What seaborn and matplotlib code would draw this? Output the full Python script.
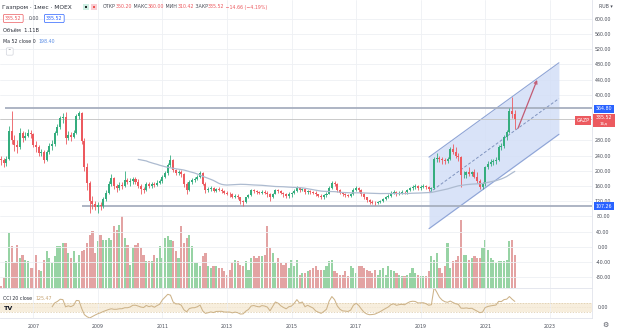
import numpy as np
import pandas as pd
import matplotlib
matplotlib.use("Agg")
import matplotlib.pyplot as plt
import seaborn as sns
from matplotlib.patches import Rectangle

# ---------------- data (monthly, Jan 2006 .. Dec 2021) ----------------
first_open = 232
closes = [
    228, 220, 232, 305, 282, 268, 262, 300, 285, 292, 300, 296,
    268, 262, 248, 250, 228, 250, 265, 270, 300, 315, 338, 342,
    286, 295, 290, 300, 345, 352, 279, 210, 168, 120, 112, 106,
    110, 108, 125, 142, 165, 181, 160, 155, 163, 160, 176, 170,
    172, 178, 170, 160, 152, 150, 165, 160, 165, 162, 168, 172,
    185, 195, 215, 228, 202, 195, 198, 192, 165, 150, 170, 176,
    178, 185, 195, 165, 150, 152, 155, 148, 152, 150, 148, 142,
    140, 138, 132, 135, 130, 120, 118, 130, 137, 150, 148, 144,
    142, 145, 143, 140, 130, 140, 150, 148, 142, 138, 135, 140,
    142, 148, 155, 150, 153, 145, 147, 145, 143, 138, 135, 132,
    136, 140, 155, 168, 165, 150, 142, 138, 137, 135, 138, 150,
    155, 150, 140, 130, 123, 118, 116, 115, 117, 120, 126, 131,
    135, 142, 145, 140, 143, 145, 144, 150, 155, 158, 160, 156,
    158, 160, 157, 152, 155, 230, 235, 232, 228, 226, 230, 258,
    250, 240, 236, 189, 190, 196, 192, 197, 185, 172, 158, 165,
    210, 218, 222, 225, 228, 262, 265, 288, 302, 358, 350.2, 335.52,
]
highs = [
    240, 234, 238, 318, 358, 295, 280, 312, 305, 302, 310, 308,
    300, 278, 268, 258, 255, 255, 272, 280, 305, 322, 345, 352,
    355, 305, 302, 308, 350, 358, 354, 285, 220, 172, 135, 120,
    118, 118, 130, 150, 172, 192, 185, 165, 170, 170, 200, 182,
    182, 185, 185, 178, 165, 158, 170, 170, 170, 170, 175, 178,
    190, 200, 220, 242, 230, 206, 202, 202, 195, 170, 175, 182,
    185, 190, 200, 198, 170, 158, 160, 158, 156, 158, 155, 150,
    148, 145, 142, 138, 138, 132, 124, 132, 140, 153, 152, 150,
    148, 150, 150, 146, 142, 142, 153, 152, 150, 145, 142, 145,
    145, 152, 160, 158, 156, 155, 150, 150, 148, 146, 140, 138,
    140, 145, 160, 172, 172, 168, 152, 145, 142, 140, 142, 156,
    160, 158, 152, 142, 132, 126, 122, 120, 120, 124, 128, 134,
    138, 146, 150, 148, 146, 150, 148, 153, 158, 162, 165, 162,
    162, 165, 164, 160, 158, 236, 247, 240, 236, 234, 236, 262,
    270, 262, 248, 240, 200, 200, 210, 200, 205, 198, 178, 170,
    212, 225, 230, 232, 236, 268, 272, 295, 308, 365, 394, 360,
]
lows = [
    215, 210, 212, 228, 270, 252, 248, 258, 275, 280, 288, 285,
    262, 250, 238, 240, 220, 225, 245, 255, 266, 295, 310, 325,
    270, 280, 278, 285, 298, 335, 270, 200, 150, 90, 100, 98,
    88, 98, 102, 120, 138, 160, 152, 145, 150, 152, 158, 165,
    160, 165, 165, 155, 140, 142, 148, 155, 156, 158, 160, 165,
    168, 180, 190, 210, 196, 188, 190, 185, 158, 140, 148, 165,
    170, 175, 182, 162, 142, 145, 148, 145, 145, 146, 142, 138,
    136, 132, 128, 128, 125, 112, 108, 116, 128, 135, 142, 140,
    138, 138, 138, 132, 120, 128, 138, 142, 138, 132, 128, 128,
    132, 138, 145, 145, 146, 140, 140, 138, 138, 134, 130, 125,
    125, 132, 138, 152, 160, 145, 138, 134, 132, 130, 132, 136,
    146, 145, 135, 126, 118, 112, 112, 111, 112, 115, 118, 124,
    128, 132, 138, 135, 136, 140, 140, 140, 146, 150, 152, 150,
    150, 154, 152, 148, 148, 152, 222, 222, 218, 218, 220, 228,
    245, 235, 225, 158, 180, 180, 186, 186, 180, 168, 152, 152,
    160, 205, 212, 215, 218, 225, 255, 260, 282, 300, 340, 310.42,
]
volumes_b = [
    0.06, 0.34, 0.90, 1.85, 1.40, 0.84, 1.46, 1.01, 1.12, 0.95, 0.90, 0.67,
    0.67, 1.12, 0.62, 0.56, 0.95, 1.23, 1.01, 0.84, 1.06, 1.40, 1.40, 1.51,
    1.51, 1.18, 1.01, 1.23, 0.84, 1.12, 1.23, 1.29, 1.51, 1.79, 1.90, 1.18,
    1.57, 1.79, 1.62, 1.62, 1.68, 1.62, 2.07, 1.96, 2.13, 2.41, 1.68, 1.46,
    0.78, 1.34, 1.46, 1.51, 1.34, 1.12, 0.90, 0.90, 0.90, 1.12, 1.01, 1.40,
    1.01, 1.68, 1.74, 1.62, 1.57, 1.23, 1.01, 2.07, 1.51, 1.68, 1.79, 1.40,
    0.84, 0.84, 0.73, 1.06, 1.18, 0.73, 0.67, 0.73, 0.73, 0.67, 0.67, 0.56,
    0.45, 0.62, 0.84, 0.95, 0.90, 0.78, 0.73, 0.90, 0.62, 1.01, 1.06, 1.01,
    1.06, 1.06, 1.12, 2.07, 1.34, 1.18, 0.84, 1.01, 0.84, 0.78, 0.84, 0.67,
    0.95, 0.73, 0.95, 0.45, 0.50, 0.50, 0.56, 0.62, 0.67, 0.73, 0.62, 0.62,
    0.62, 0.73, 0.90, 0.95, 0.56, 0.50, 0.45, 0.45, 0.56, 0.39, 0.73, 0.67,
    0.50, 0.73, 0.73, 0.67, 0.62, 0.56, 0.50, 0.62, 0.45, 0.62, 0.67, 0.45,
    0.73, 0.62, 0.56, 0.50, 0.45, 0.39, 0.39, 0.45, 0.50, 0.67, 0.50, 0.45,
    0.39, 0.39, 0.39, 0.56, 1.06, 0.95, 1.18, 0.67, 0.50, 0.73, 1.51, 0.67,
    0.90, 0.95, 1.06, 2.30, 1.12, 1.12, 0.95, 1.01, 1.06, 1.01, 1.01, 1.34,
    1.62, 1.29, 1.01, 0.95, 0.84, 0.90, 0.90, 0.90, 0.95, 1.57, 1.62, 1.11,
]
year_labels = ["2007", "2009", "2011", "2013", "2015", "2017", "2019", "2021", "2023"]
price_ticks = [600, 560, 520, 480, 440, 400, 280, 240, 200, 160, 120, 80, 40, 0, -40, -80]
level_top = 364.80
level_bottom = 107.26
last_price = 335.52
# drawn channel (month index, price) and arrow
channel_m = [159.1, 207.4]
channel_upper = [236, 484]
channel_lower = [48, 296]
arrow_from = (192.2, 312)
arrow_to = (199.3, 439)

# ---------------- styling ----------------
UP, DOWN = "#35ad7e", "#ec5a5f"
VUP, VDOWN = "#97d3a4", "#e3a3a3"
GRID = "#eef0f4"
TXT = "#4a4e59"
FS = 3.4

sns.set_theme(style="white")
plt.rcParams["font.family"] = ["DejaVu Sans"]

W, H = 620, 332
fig = plt.figure(figsize=(W / 100, H / 100), dpi=100)
fig.patch.set_facecolor("white")

ax = fig.add_axes([0, 1 - 288 / H, 592 / W, 288 / H])
axv = ax.twinx()
axc = fig.add_axes([0, 1 - 318 / H, 592 / W, 29 / H])

n = len(closes)
months = np.arange(n)
opens = [first_open] + closes[:-1]
df = pd.DataFrame({"m": months, "open": opens, "close": closes,
                   "high": highs, "low": lows, "vol": volumes_b})
up = df["close"] >= df["open"]
ccol = np.where(up, UP, DOWN)
vcol = np.where(up, VUP, VDOWN)

xmin, xmax = -0.37, 219.7

# volume (behind)
axv.bar(df["m"], df["vol"], width=0.8, color=vcol, linewidth=0)
axv.set_ylim(0, 9.68)
axv.set_xlim(xmin, xmax)
axv.yaxis.set_visible(False)
for s in axv.spines.values():
    s.set_visible(False)

ax.set_zorder(axv.get_zorder() + 1)
ax.patch.set_visible(False)

# channel
ax.fill_between(channel_m, channel_lower, channel_upper, color="#d3def7", alpha=0.85, lw=0, zorder=1)
ax.plot(channel_m, channel_upper, color="#8ea4d6", lw=0.8, zorder=2)
ax.plot(channel_m, channel_lower, color="#8ea4d6", lw=0.8, zorder=2)
ax.plot(channel_m, [(a + b) / 2 for a, b in zip(channel_upper, channel_lower)],
        color="#8094bf", lw=0.7, ls=(0, (3, 2)), zorder=2)

# horizontal levels
ax.hlines(level_top, 1.5, xmax, color="#a7afbf", lw=1.3, zorder=2)
ax.hlines(level_bottom, 30.1, xmax, color="#a7afbf", lw=1.3, zorder=2)
ax.axhline(last_price, color="#c2c2c2", lw=0.6, zorder=2)

# candles
ax.vlines(df["m"], df["low"], df["high"], colors=ccol, lw=0.6, zorder=3)
body = (df["close"] - df["open"]).abs().clip(lower=1.0)
ax.bar(df["m"], body, bottom=np.minimum(df["open"], df["close"]),
       width=0.75, color=ccol, linewidth=0, zorder=4)

# moving average 52
ma = df["close"].rolling(52).mean()
sns.lineplot(x=df["m"], y=ma, ax=ax, color="#adbbd0", lw=0.9, zorder=5)

# arrow
ax.annotate("", xy=arrow_to, xytext=arrow_from,
            arrowprops=dict(arrowstyle="->", color="#c25b73", lw=0.9,
                            mutation_scale=5, shrinkA=0, shrinkB=0), zorder=6)

ax.set_xlim(xmin, xmax)
ax.set_ylim(-108, 649)
ax.set_xlabel("")
ax.set_ylabel("")
tick_pos = [(int(y) - 2006) * 12 for y in year_labels]
ax.set_xticks(tick_pos)
ax.set_xticklabels([])
ax.tick_params(axis="x", length=0)
ax.yaxis.tick_right()
ax.set_yticks(price_ticks)
ax.set_yticklabels([f"{v:.2f}" for v in price_ticks])
ax.tick_params(axis="y", length=0, pad=7.9, labelsize=FS, labelcolor=TXT)
for lab in ax.get_yticklabels():
    lab.set_horizontalalignment("center")
ax.grid(True, color=GRID, lw=0.6)
for k, s in ax.spines.items():
    s.set_visible(k in ("right", "bottom"))
    s.set_color("#e0e3eb")
    s.set_linewidth(0.6)

# ---------------- CCI pane ----------------
cl = df["close"]
sma = cl.rolling(20).mean()
mad = cl.rolling(20).apply(lambda x: np.mean(np.abs(x - x.mean())), raw=True)
cci = (cl - sma) / (0.015 * mad)
axc.axhspan(-100, 100, color="#f7eedd", lw=0, zorder=0)
for lv in (100, -100):
    axc.axhline(lv, color="#dac8a6", lw=0.5, ls=(0, (2, 2)), zorder=1)
axc.axhline(0, color="#e4d7bf", lw=0.4, ls=(0, (1, 2)), zorder=1)
sns.lineplot(x=df["m"], y=cci, ax=axc, color="#cdb389", lw=0.75, zorder=3)
axc.set_xlim(xmin, xmax)
axc.set_ylim(-230, 400)
axc.set_xlabel("")
axc.set_ylabel("")
axc.set_xticks(tick_pos)
axc.set_xticklabels(year_labels)
axc.tick_params(axis="x", length=0, pad=4.5, labelsize=FS, labelcolor=TXT)
axc.yaxis.tick_right()
axc.set_yticks([0])
axc.set_yticklabels(["0.00"])
axc.tick_params(axis="y", length=0, pad=7.9, labelsize=FS, labelcolor=TXT)
for lab in axc.get_yticklabels():
    lab.set_horizontalalignment("center")
axc.grid(True, axis="x", color=GRID, lw=0.6)
for k, s in axc.spines.items():
    s.set_visible(k in ("right", "bottom"))
    s.set_color("#e0e3eb")
    s.set_linewidth(0.6)


# ---------------- texts ----------------
def T(x, y, s, **kw):
    kw.setdefault("fontsize", FS)
    kw.setdefault("color", TXT)
    kw.setdefault("va", "center")
    kw.setdefault("ha", "left")
    return fig.text(x / W, 1 - y / H, s, **kw)


renderer = fig.canvas.get_renderer()


def chain(x, y, parts, gap=0.0):
    for s, c in parts:
        t = T(x, y, s, color=c)
        bb = t.get_window_extent(renderer=renderer)
        x += bb.width + gap


T(2, 7, "Газпром · 1мес · MOEX", color="#2a2e39", fontsize=4.2)
fig.patches.append(Rectangle((83 / W, 1 - 10 / H), 6 / W, 6 / H, transform=fig.transFigure,
                             fc="#cdeee2", ec="none"))
fig.patches.append(Rectangle((85 / W, 1 - 8 / H), 2 / W, 2 / H, transform=fig.transFigure,
                             fc="#1f2a2a", ec="none"))
fig.patches.append(Rectangle((91 / W, 1 - 10 / H), 6 / W, 6 / H, transform=fig.transFigure,
                             fc="#f9cdd3", ec="none"))
fig.patches.append(Rectangle((93 / W, 1 - 8 / H), 2 / W, 2 / H, transform=fig.transFigure,
                             fc="#ef5350", ec="none"))
chain(103, 7, [("ОТКР", TXT), ("350.20", DOWN), (" МАКС", TXT), ("360.00", DOWN),
               (" МИН", TXT), ("310.42", DOWN), (" ЗАКР", TXT), ("335.52", DOWN),
               (" −14.66 (−4.19%)", DOWN)])
T(5, 18.5, "335.52", color=DOWN,
  bbox=dict(boxstyle="round,pad=0.35,rounding_size=0.3", fc="white", ec=DOWN, lw=0.5))
T(29, 18.5, "0.00", color=TXT)
T(46, 18.5, "335.52", color="#2962ff",
  bbox=dict(boxstyle="round,pad=0.35,rounding_size=0.3", fc="white", ec="#2962ff", lw=0.5))
T(3, 30.5, "Объём  1.11B", color="#2a2e39", fontsize=3.7)
chain(3, 41.5, [("Ma 52 close 0  ", "#2a2e39"), ("198.40", "#5b8ee6")])
T(8, 51.5, "^", color=TXT, fontsize=3.0,
  bbox=dict(boxstyle="round,pad=0.4,rounding_size=0.3", fc="white", ec="#d1d4dc", lw=0.5))

chain(3, 298, [("CCI 20 close  ", "#2a2e39"), ("125.47", "#c8a676")])
T(4, 309, "TV", color="#131722", fontsize=4.6, fontweight="bold")

# right price scale labels
T(606, 6, "RUB ▾", ha="center", color=TXT)
T(604, 109, "364.80", ha="center", color="white",
  bbox=dict(boxstyle="square,pad=0.35", fc="#2962ff", ec="none"))
T(604, 206, "107.26", ha="center", color="white",
  bbox=dict(boxstyle="square,pad=0.35", fc="#2962ff", ec="none"))
fig.patches.append(Rectangle((593 / W, 1 - 127 / H), 22 / W, 13 / H, transform=fig.transFigure,
                             fc=DOWN, ec="none"))
T(604, 117.5, "335.52", ha="center", color="white")
T(604, 123.5, "16д", ha="center", color="white", fontsize=3.0)
T(583, 120.5, "GAZP", ha="center", color="white",
  bbox=dict(boxstyle="square,pad=0.35", fc=DOWN, ec="none"))
T(605, 325, "⚙", ha="center", color="#50535e", fontsize=5)

fig.savefig("out.png", dpi=100, facecolor="white")
